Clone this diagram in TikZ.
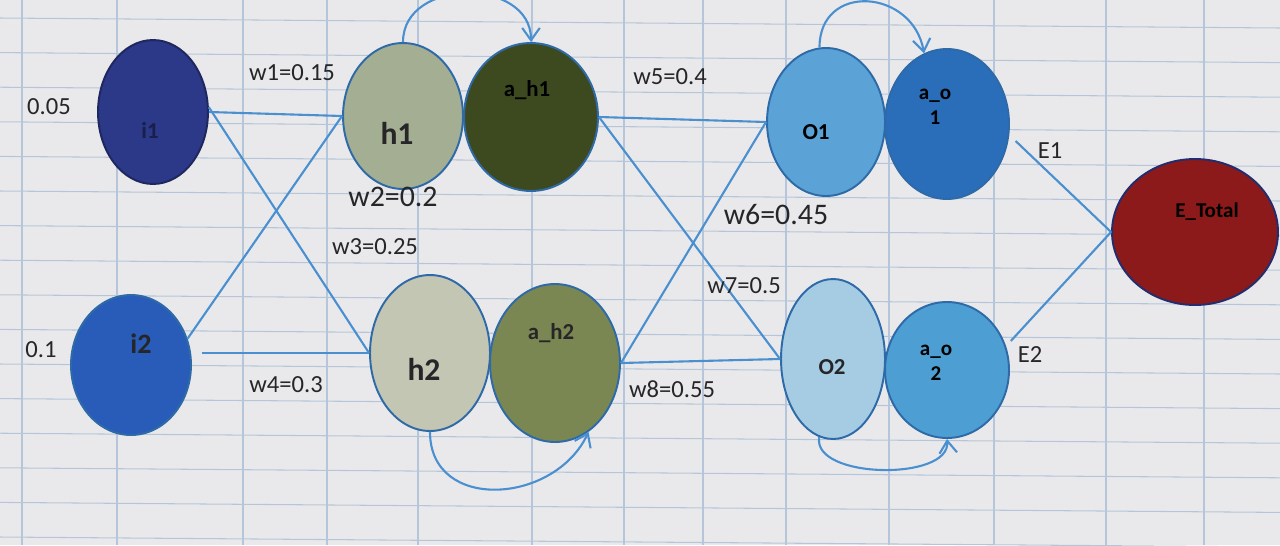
\documentclass[tikz,border=0pt]{standalone}
\usepackage{fontspec}
\setmainfont{Carlito}
\usetikzlibrary{shapes.geometric, arrows.meta, positioning}
\definecolor{SheetPaper}{RGB}{233, 233, 235}
\definecolor{SheetGrid}{RGB}{182, 198, 218}
\definecolor{LinkBlue}{RGB}{74, 144, 208}
\definecolor{RimBlue}{RGB}{46, 106, 168}
\definecolor{InputNavy}{RGB}{44, 56, 136}
\definecolor{InputBlue}{RGB}{40, 92, 184}
\definecolor{HiddenSage}{RGB}{163, 174, 146}
\definecolor{HiddenOlive}{RGB}{61, 74, 32}
\definecolor{HiddenPale}{RGB}{194, 198, 178}
\definecolor{HiddenMoss}{RGB}{122, 135, 83}
\definecolor{OutSky}{RGB}{91, 162, 214}
\definecolor{OutCobalt}{RGB}{42, 109, 184}
\definecolor{OutIce}{RGB}{166, 204, 228}
\definecolor{OutAzure}{RGB}{77, 159, 211}
\definecolor{ErrorRed}{RGB}{140, 26, 26}
\definecolor{InkGray}{RGB}{38, 38, 40}

\begin{document}
\begin{tikzpicture}[x=0.02cm, y=0.02cm,
        neuron/.style={ellipse, draw=RimBlue, line width=1.1pt, inner sep=0pt},
        link/.style={LinkBlue, line width=1.2pt},
        loopback/.style={LinkBlue, line width=1.2pt, -{Straight Barb[length=7pt, width=10pt]}},
        wlab/.style={text=InkGray, font=\fontsize{14}{16}\selectfont, inner sep=1pt},
        bigwlab/.style={wlab, font=\fontsize{17}{19}\selectfont},
        nlab/.style={text=InkGray, font=\bfseries\fontsize{13}{14}\selectfont, align=center, inner sep=0pt}]
            % Spreadsheet paper with its cell grid
            \path[use as bounding box, fill=SheetPaper] (0,0) rectangle (1280,-545);
            \foreach \gx in {22,117,243,327,418,532,624,703,786,889,994,1106,1204} {
                \draw[SheetGrid, line width=0.6pt] (\gx,0) -- (\gx,-545);
            }
            \foreach \gy in {0,...,15} {
                \draw[SheetGrid, line width=0.6pt] (0,-18-34.6*\gy) -- (1280,-28-34.6*\gy);
            }

            % Input layer
            \node[neuron, fill=InputNavy, draw=InputNavy!70!black,
                  minimum width=2.2cm, minimum height=2.88cm] (i1) at (153,-112) {};
            \node[neuron, fill=InputBlue, minimum width=2.4cm, minimum height=2.8cm] (i2) at (131,-365) {};

            % Hidden layer: net input and activation
            \node[neuron, fill=HiddenSage, minimum width=2.4cm, minimum height=2.92cm] (h1) at (403,-116) {};
            \node[neuron, fill=HiddenOlive, minimum width=2.68cm, minimum height=2.96cm] (ah1) at (531,-117) {};
            \node[neuron, fill=HiddenPale, minimum width=2.4cm, minimum height=3.12cm] (h2) at (430,-353) {};
            \node[neuron, fill=HiddenMoss, minimum width=2.6cm, minimum height=3.16cm] (ah2) at (555,-363) {};

            % Output layer: net input and activation
            \node[neuron, fill=OutSky, minimum width=2.36cm, minimum height=2.96cm] (o1) at (826,-122) {};
            \node[neuron, fill=OutCobalt, minimum width=2.48cm, minimum height=3cm] (ao1) at (947,-124) {};
            \node[neuron, fill=OutIce, minimum width=2.08cm, minimum height=3.2cm] (o2) at (833,-359) {};
            \node[neuron, fill=OutAzure, minimum width=2.48cm, minimum height=2.72cm] (ao2) at (947,-370) {};

            % Total error
            \node[neuron, fill=ErrorRed, draw=InputNavy!80!black,
                  minimum width=3.32cm, minimum height=2.92cm] (etotal) at (1195,-232) {};

            % Texts inside the neurons
            \node[nlab, text=InputNavy!55!black] (i1txt) at (150,-130) {i1};
            \node[nlab, font=\bfseries\fontsize{16}{18}\selectfont] (i2txt) at (141,-344) {i2};
            \node[nlab, font=\bfseries\fontsize{18}{20}\selectfont] (h1txt) at (397,-133) {h1};
            \node[nlab, text=black] (ah1txt) at (527,-90) {a\_h1};
            \node[nlab, font=\bfseries\fontsize{18}{20}\selectfont] (h2txt) at (424,-369) {h2};
            \node[nlab] (ah2txt) at (551,-333) {a\_h2};
            \node[nlab, text=black] (o1txt) at (816,-132) {O1};
            \node[nlab, text=black, font=\bfseries\fontsize{12}{14}\selectfont] (ao1txt) at (935,-107) {a\_o\\1};
            \node[nlab] (o2txt) at (832,-367) {O2};
            \node[nlab, text=black, font=\bfseries\fontsize{12}{14}\selectfont] (ao2txt) at (936,-363) {a\_o\\2};
            \node[nlab, text=black, font=\bfseries\fontsize{12}{14}\selectfont] (etxt) at (1207,-212) {E\_Total};

            % Input values
            \node[wlab] (x1) at (49,-107) {0.05};
            \node[wlab] (x2) at (41,-350) {0.1};

            % Weighted connections
            \draw[link] (i1.east) -- (h1.west);
            \draw[link] (i1.5) -- (h2.west);
            \draw[link] (i2.25) -- (h1.west);
            \draw[link, shorten <=6pt] (i2.east |- h2.west) -- (h2.west);
            \draw[link] (ah1.east) -- (o1.west);
            \draw[link] (ah1.east) -- (o2.west);
            \draw[link] (ah2.east) -- (o1.west);
            \draw[link] (ah2.east) -- (o2.west);
            \draw[link, shorten <=5pt] (ao1.-10) -- (etotal.west);
            \draw[link, shorten <=4pt] (ao2.22) -- (etotal.west);

            % Weight and error labels
            \node[wlab] (w1) at (292,-73) {w1=0.15};
            \node[bigwlab] (w2) at (393,-197) {w2=0.2};
            \node[wlab] (w3) at (375,-247) {w3=0.25};
            \node[wlab] (w4) at (286,-385) {w4=0.3};
            \node[wlab] (w5) at (670,-77) {w5=0.4};
            \node[bigwlab] (w6) at (776,-215) {w6=0.45};
            \node[wlab] (w7) at (744,-286) {w7=0.5};
            \node[wlab] (w8) at (672,-389) {w8=0.55};
            \node[wlab] (e1) at (1050,-151) {E1};
            \node[wlab] (e2) at (1030,-355) {E2};

            % Net input feeding its activation
            \draw[loopback] (h1.north) to[out=90, in=90, looseness=1.3] (ah1.north);
            \draw[loopback] (o1.95) to[out=90, in=100, looseness=1.6] (ao1.108);
            \draw[loopback] (h2.south) to[out=-90, in=-115, looseness=1.3] (ah2.-64);
            \draw[loopback] (o2.-100) to[out=-100, in=-85, looseness=0.85] (ao2.south);
        \end{tikzpicture}
\end{document}
